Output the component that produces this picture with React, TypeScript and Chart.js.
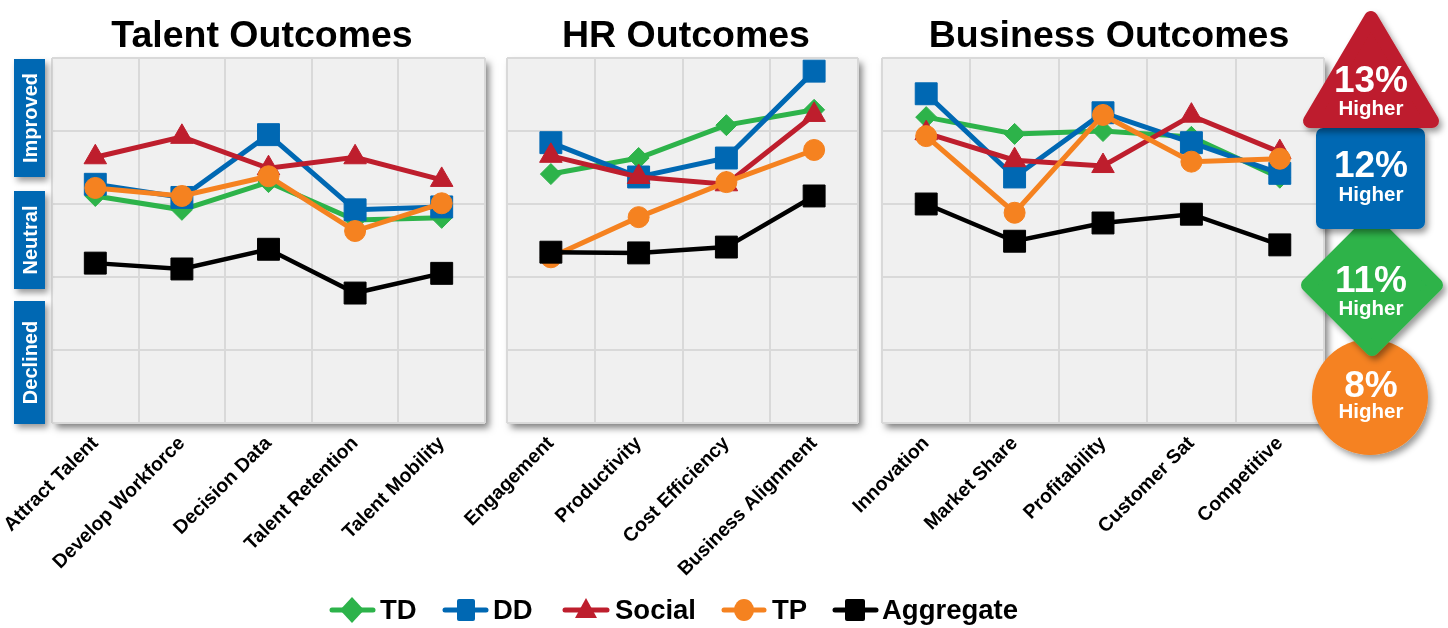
import React, { useEffect, useRef } from "react";
import { Chart, registerables } from "chart.js";
Chart.register(...registerables);

// ---------- data ----------
const talentCategories = ["Attract Talent", "Develop Workforce", "Decision Data", "Talent Retention", "Talent Mobility"];
const talentTD = [3.11, 2.92, 3.3, 2.78, 2.81];
const talentDD = [3.27, 3.09, 3.95, 2.92, 2.96];
const talentSocial = [3.64, 3.92, 3.49, 3.64, 3.33];
const talentTP = [3.22, 3.11, 3.38, 2.63, 3.01];
const talentAggregate = [2.19, 2.11, 2.38, 1.78, 2.05];

const hrCategories = ["Engagement", "Productivity", "Cost Efficiency", "Business Alignment"];
const hrTD = [3.41, 3.63, 4.08, 4.29];
const hrDD = [3.84, 3.37, 3.63, 4.82];
const hrSocial = [3.66, 3.37, 3.27, 4.22];
const hrTP = [2.27, 2.82, 3.3, 3.74];
const hrAggregate = [2.34, 2.33, 2.41, 3.11];

const bizCategories = ["Innovation", "Market Share", "Profitability", "Customer Sat", "Competitive"];
const bizTD = [4.19, 3.96, 4.0, 3.92, 3.36];
const bizDD = [4.51, 3.37, 4.25, 3.84, 3.42];
const bizSocial = [3.97, 3.6, 3.52, 4.21, 3.71];
const bizTP = [3.93, 2.88, 4.22, 3.58, 3.62];
const bizAggregate = [3.0, 2.49, 2.74, 2.86, 2.44];

const seriesNames = ["TD", "DD", "Social", "TP", "Aggregate"];
const panelTitles = ["Talent Outcomes", "HR Outcomes", "Business Outcomes"];
const ratingLabels = ["Improved", "Neutral", "Declined"];
const badgePercents = ["13%", "12%", "11%", "8%"];
const badgeWord = "Higher";
const yMin = 0;
const yMax = 5;
const yStep = 1;

// ---------- styles ----------
const W = 1448;
const H = 628;
const FONT = "'Liberation Sans', Arial, Helvetica, sans-serif";
const COLORS = ["#2db34a", "#0068b3", "#be1e2d", "#f58220", "#000000"];
const POINT_STYLES = ["rectRot", "rect", "triangle", "circle", "rect"];
const POINT_RADII = [10.5, 15.5, 13, 10.5, 15.5];
const LINE_WIDTHS = [5, 5, 5, 5, 4.5];
const DRAW_ORDER = [5, 4, 3, 2, 1];
const PLOT_TOP = 58;
const PLOT_BOTTOM = 423;

const panelBg = {
  id: "panelBg",
  beforeDraw(chart: any) {
    const { ctx, chartArea: a } = chart;
    ctx.save();
    ctx.shadowColor = "rgba(0,0,0,0.5)";
    ctx.shadowBlur = 7;
    ctx.shadowOffsetX = 4;
    ctx.shadowOffsetY = 5;
    ctx.fillStyle = "#f0f0f0";
    ctx.fillRect(a.left, a.top, a.right - a.left, a.bottom - a.top);
    ctx.restore();
  },
};

function Panel(props: { categories: string[]; series: number[][]; left: number; right: number }) {
  const ref = useRef<HTMLCanvasElement>(null);
  useEffect(() => {
    const chart = new Chart(ref.current as HTMLCanvasElement, {
      type: "line",
      data: {
        labels: props.categories,
        datasets: props.series.map((vals, i) => ({
          label: seriesNames[i],
          data: vals,
          borderColor: COLORS[i],
          backgroundColor: COLORS[i],
          pointBackgroundColor: COLORS[i],
          pointBorderColor: COLORS[i],
          pointBorderWidth: 1,
          pointStyle: POINT_STYLES[i] as any,
          pointRadius: POINT_RADII[i],
          borderWidth: LINE_WIDTHS[i],
          tension: 0,
          order: DRAW_ORDER[i],
          clip: 20,
        })),
      },
      options: {
        animation: false,
        responsive: false,
        devicePixelRatio: 1,
        events: [],
        layout: { padding: { left: props.left, right: W - props.right, top: PLOT_TOP, bottom: 0 } },
        plugins: { legend: { display: false }, tooltip: { enabled: false }, title: { display: false } },
        scales: {
          x: {
            offset: true,
            grid: { offset: true, color: "#d9d9d9", lineWidth: 2, drawTicks: false },
            border: { display: false },
            ticks: {
              autoSkip: false,
              maxRotation: 45,
              minRotation: 45,
              padding: 9,
              color: "#000",
              font: { family: FONT, size: 19.5, weight: "bold" },
            },
            afterFit: (s: any) => {
              s.height = H - PLOT_BOTTOM;
              s.paddingLeft = 0;
              s.paddingRight = 0;
            },
          },
          y: {
            min: yMin,
            max: yMax,
            ticks: { stepSize: yStep, display: false },
            grid: { color: "#d9d9d9", lineWidth: 2, drawTicks: false },
            border: { display: false },
            afterFit: (s: any) => {
              s.width = 0;
              s.paddingTop = 0;
              s.paddingBottom = 0;
            },
          },
        },
      } as any,
      plugins: [panelBg],
    });
    return () => chart.destroy();
  }, []);
  return <canvas ref={ref} width={W} height={H} style={{ position: "absolute", left: 0, top: 0 }} />;
}

function Overlay() {
  const titleX = [262, 686, 1109];
  const boxes = [
    { y: 59, h: 118 },
    { y: 191, h: 98 },
    { y: 301, h: 123 },
  ];
  const legendItems = [
    { x1: 332, x2: 373, cx: 352, tx: 380 },
    { x1: 445, x2: 486, cx: 466, tx: 493 },
    { x1: 565, x2: 607, cx: 586, tx: 615 },
    { x1: 724, x2: 764, cx: 744, tx: 772 },
    { x1: 835, x2: 876, cx: 855, tx: 882 },
  ];
  const ly = 610;
  const marker = (i: number, cx: number) => {
    const c = COLORS[i];
    if (i === 0) return <polygon points={`${cx},${ly - 13} ${cx + 12},${ly} ${cx},${ly + 13} ${cx - 12},${ly}`} fill={c} />;
    if (i === 1) return <rect x={cx - 9} y={ly - 11} width={18} height={22} rx={2} fill={c} />;
    if (i === 2) return <polygon points={`${cx},${ly - 12} ${cx + 11},${ly + 8} ${cx - 11},${ly + 8}`} fill={c} />;
    if (i === 3) return <ellipse cx={cx} cy={ly} rx={10} ry={11} fill={c} />;
    return <rect x={cx - 10} y={ly - 11} width={20} height={22} rx={2} fill={c} />;
  };
  const badgeText = [
    { big: 92, small: 115 },
    { big: 177, small: 201 },
    { big: 292, small: 315 },
    { big: 397, small: 418 },
  ];
  return (
    <svg width={W} height={H} style={{ position: "absolute", left: 0, top: 0 }}>
      <defs>
        <filter id="sh" x="-20%" y="-20%" width="150%" height="150%">
          <feDropShadow dx="3" dy="4" stdDeviation="3" floodColor="#000" floodOpacity="0.4" />
        </filter>
      </defs>
      {panelTitles.map((t, i) => (
        <text key={t} x={titleX[i]} y={47} textAnchor="middle" fontFamily={FONT} fontWeight="bold" fontSize={37.5} fill="#000">
          {t}
        </text>
      ))}
      {ratingLabels.map((t, i) => (
        <g key={t}>
          <rect x={14} y={boxes[i].y} width={31} height={boxes[i].h} fill="#0068b3" filter="url(#sh)" />
          <text
            transform={`translate(36.5,${boxes[i].y + boxes[i].h / 2}) rotate(-90)`}
            textAnchor="middle"
            fontFamily={FONT}
            fontWeight="bold"
            fontSize={20}
            fill="#fff"
          >
            {t}
          </text>
        </g>
      ))}
      {/* badges: orange, green, blue, red (bottom to top) */}
      <circle cx={1370} cy={397} r={58} fill="#f58220" filter="url(#sh)" />
      <polygon
        points="1372,221 1436,285 1372,349 1308,285"
        fill="#2db34a"
        stroke="#2db34a"
        strokeWidth={14}
        strokeLinejoin="round"
        filter="url(#sh)"
      />
      <rect x={1316} y={128} width={109} height={101} rx={7} fill="#0068b3" filter="url(#sh)" />
      <polygon
        points="1371,18 1310,121 1432,121"
        fill="#be1e2d"
        stroke="#be1e2d"
        strokeWidth={14}
        strokeLinejoin="round"
        filter="url(#sh)"
      />
      {badgePercents.map((p, i) => (
        <g key={p} fontFamily={FONT} fontWeight="bold" fill="#fff" textAnchor="middle">
          <text x={1371} y={badgeText[i].big} fontSize={37}>
            {p}
          </text>
          <text x={1371} y={badgeText[i].small} fontSize={20.5}>
            {badgeWord}
          </text>
        </g>
      ))}
      {seriesNames.map((n, i) => (
        <g key={n}>
          <line x1={legendItems[i].x1} x2={legendItems[i].x2} y1={ly} y2={ly} stroke={COLORS[i]} strokeWidth={5} strokeLinecap="round" />
          {marker(i, legendItems[i].cx)}
          <text x={legendItems[i].tx} y={619} fontFamily={FONT} fontWeight="bold" fontSize={27.5} fill="#000">
            {n}
          </text>
        </g>
      ))}
    </svg>
  );
}

export default function App() {
  return (
    <div style={{ position: "fixed", left: 0, top: 0, width: W, height: H, overflow: "hidden", background: "#fff" }}>
      <Panel categories={talentCategories} series={[talentTD, talentDD, talentSocial, talentTP, talentAggregate]} left={52} right={485} />
      <Panel categories={hrCategories} series={[hrTD, hrDD, hrSocial, hrTP, hrAggregate]} left={507} right={858} />
      <Panel categories={bizCategories} series={[bizTD, bizDD, bizSocial, bizTP, bizAggregate]} left={882} right={1324} />
      <Overlay />
    </div>
  );
}
